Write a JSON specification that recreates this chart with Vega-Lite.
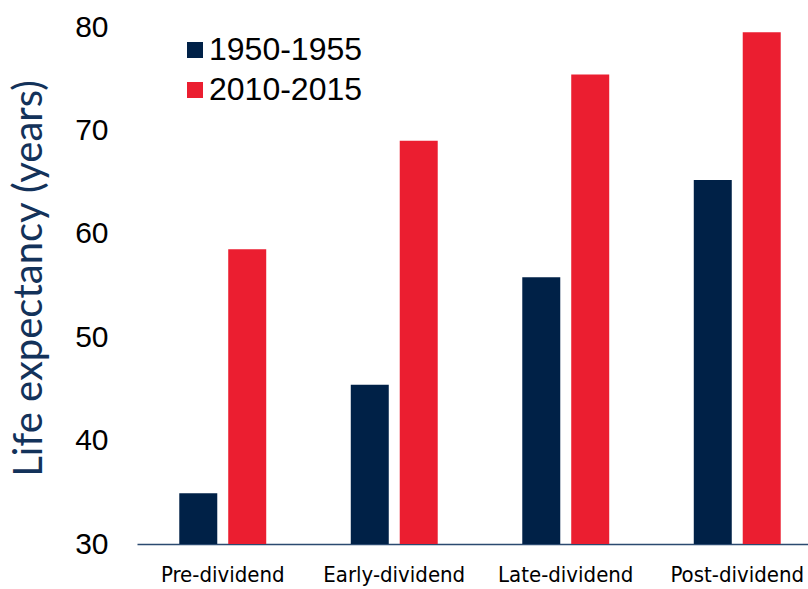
{
  "$schema": "https://vega.github.io/schema/vega-lite/v6.json",
  "width": 671,
  "height": 517,
  "autosize": {"type": "none"},
  "padding": {"left": 137, "top": 27, "right": 0, "bottom": 45},
  "background": "white",
  "config": {"view": {"stroke": null}},
  "data": {
    "values": [
      {"stage": "Pre-dividend", "period": "1950-1955", "life": 34.9},
      {"stage": "Pre-dividend", "period": "2010-2015", "life": 58.5},
      {"stage": "Early-dividend", "period": "1950-1955", "life": 45.4},
      {"stage": "Early-dividend", "period": "2010-2015", "life": 69.0},
      {"stage": "Late-dividend", "period": "1950-1955", "life": 55.8},
      {"stage": "Late-dividend", "period": "2010-2015", "life": 75.4},
      {"stage": "Post-dividend", "period": "1950-1955", "life": 65.2},
      {"stage": "Post-dividend", "period": "2010-2015", "life": 79.5}
    ]
  },
  "mark": {"type": "bar", "clip": true},
  "encoding": {
    "x": {
      "field": "stage",
      "type": "nominal",
      "sort": ["Pre-dividend", "Early-dividend", "Late-dividend", "Post-dividend"],
      "scale": {"range": [0, 686], "paddingInner": 0.493, "paddingOuter": 0.2465},
      "axis": {
        "title": null,
        "labelAngle": 0,
        "ticks": false,
        "domainColor": "#2B4A70",
        "domainWidth": 1.5,
        "labelFont": "DejaVu Sans Condensed",
        "labelFontSize": 22,
        "labelColor": "#000000",
        "labelPadding": 20
      }
    },
    "xOffset": {
      "field": "period",
      "type": "nominal",
      "scale": {"paddingInner": 0.224, "paddingOuter": 0}
    },
    "y": {
      "field": "life",
      "type": "quantitative",
      "scale": {"domain": [30, 80], "nice": false, "zero": false},
      "axis": {
        "title": "Life expectancy (years)",
        "values": [30, 40, 50, 60, 70, 80],
        "grid": false,
        "ticks": false,
        "domain": false,
        "labelFont": "Liberation Sans",
        "labelFontSize": 30,
        "labelColor": "#000000",
        "labelPadding": 29,
        "titleFont": "Lato",
        "titleFontSize": 40,
        "titleFontWeight": "normal",
        "titleColor": "#13325A",
        "titleX": -108,
        "titleY": 251,
        "titleAnchor": "middle",
        "titleBaseline": "middle",
        "titleAngle": -90
      }
    },
    "color": {
      "field": "period",
      "type": "nominal",
      "scale": {"domain": ["1950-1955", "2010-2015"], "range": ["#002147", "#EB1E30"]},
      "legend": {
        "title": null,
        "orient": "none",
        "legendX": 42,
        "legendY": 7,
        "padding": 0,
        "symbolType": "square",
        "symbolSize": 256,
        "symbolStrokeWidth": 0,
        "labelFont": "Liberation Sans",
        "labelFontSize": 32,
        "labelColor": "#000000",
        "labelOffset": -2,
        "rowPadding": 8
      }
    }
  }
}
